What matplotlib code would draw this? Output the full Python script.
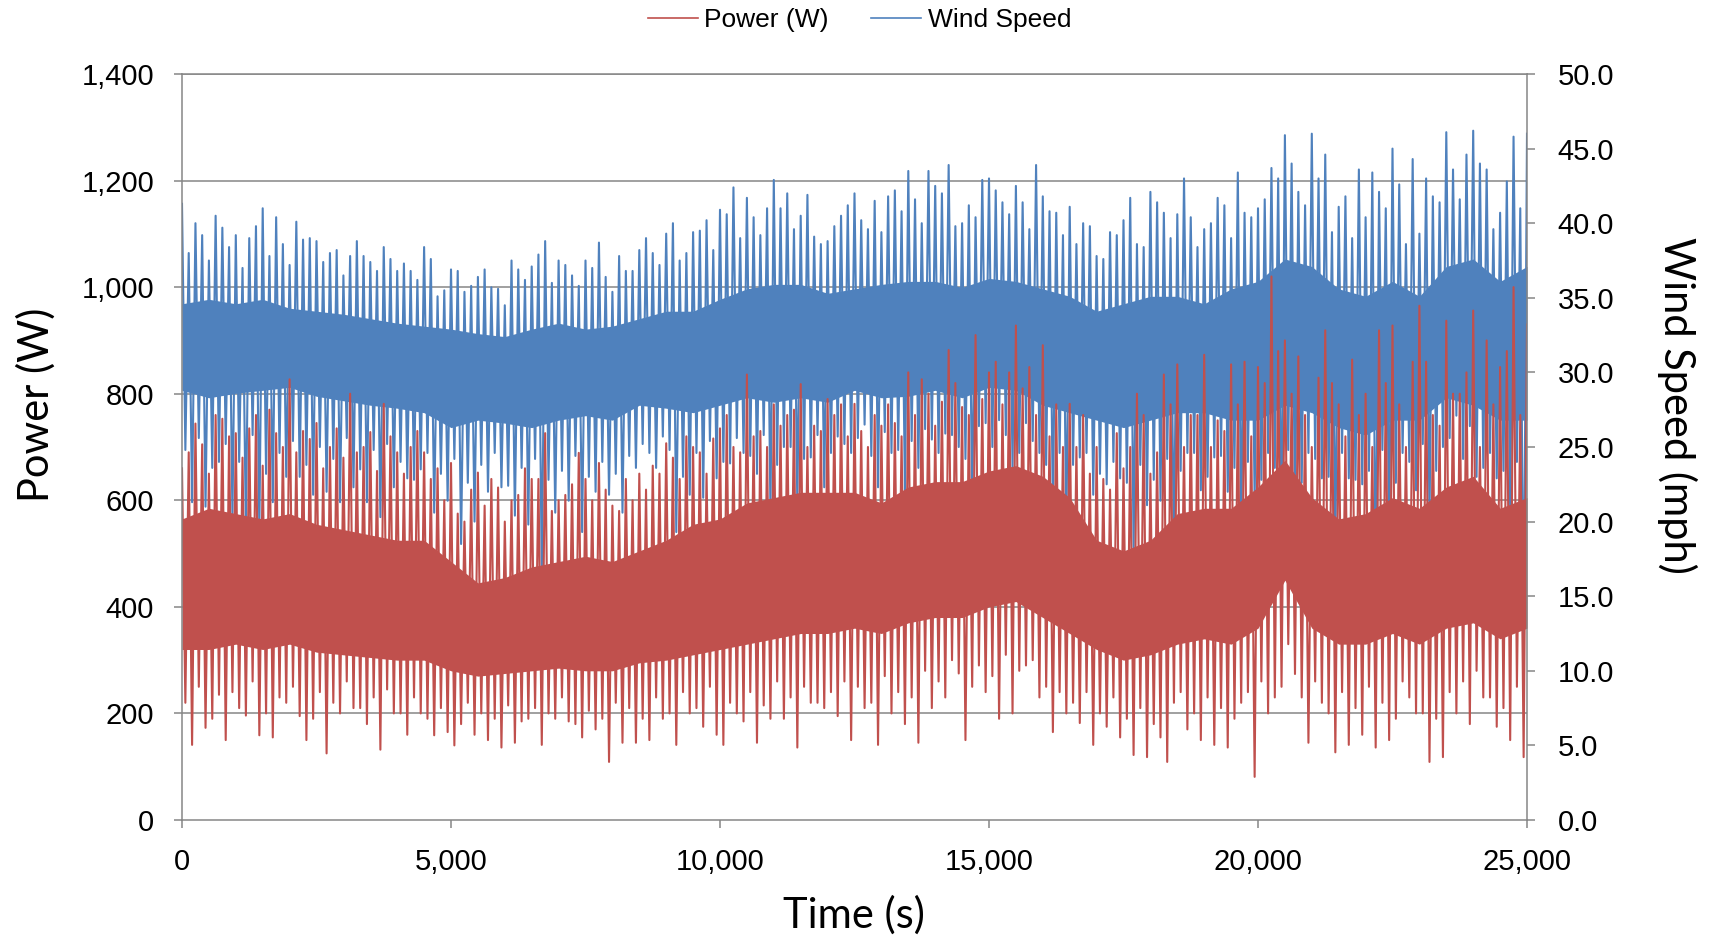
import numpy as np
import matplotlib.pyplot as plt
from matplotlib.ticker import FuncFormatter
from matplotlib.lines import Line2D

# readings taken off the chart: spike tops every 125 s (two interleaved sets),
# spike bottoms in between, and the fully solid core band every 500 s
t_peak = np.arange(0, 25001, 250)
t_peak2 = np.arange(125, 25000, 250)
t_trough = np.arange(187.5, 25000, 250)
t_trough2 = np.arange(62.5, 25000, 250)
t_core = np.arange(0, 25001, 500)

power_peak = [660, 744, 650, 753, 726, 735, 665, 726, 827, 730, 745, 700, 680, 690, 728, 781, 690,
              700, 690, 660, 670, 560, 652, 640, 560, 610, 640, 726, 600, 630, 640, 670, 590, 640,
              650, 665, 707, 640, 700, 650, 735, 700, 836, 730, 780, 760, 818, 740, 790, 780,
              781, 700, 740, 745, 840, 827, 740, 882, 775, 910, 840, 780, 928, 850, 891, 780, 781,
              760, 700, 620, 660, 800, 650, 836, 855, 760, 873, 750, 855, 860, 850, 1020, 900,
              870, 700, 919, 780, 864, 800, 919, 928, 700, 965, 760, 937, 800, 956, 900, 850, 1000, 930]
power_peak2 = [690, 705, 760, 720, 680, 760, 770, 700, 690, 715, 660, 735, 800, 700, 655, 720,
               650, 730, 640, 600, 575, 620, 590, 624, 600, 660, 640, 580, 610, 689, 600, 620, 580,
               600, 620, 650, 680, 720, 690, 716, 760, 690, 720, 700, 740, 770, 700, 730, 760, 720,
               730, 760, 780, 720, 760, 800, 785, 820, 760, 790, 860, 840, 810, 760, 720, 700,
               700, 650, 640, 726, 700, 760, 690, 780, 700, 760, 700, 730, 780, 720, 820, 880,
               800, 760, 830, 820, 720, 760, 700, 820, 780, 860, 860, 740, 800, 840, 700, 780, 880, 760]
power_trough = [141, 173, 235, 240, 196, 159, 155, 220, 195, 190, 125, 200, 210, 180, 132, 200, 160,
                200, 159, 165, 180, 160, 150, 136, 145, 190, 141, 190, 185, 155, 170, 109, 145,
                145, 150, 190, 141, 200, 175, 160, 220, 185, 145, 190, 190, 136, 220, 210, 195, 150,
                210, 141, 200, 180, 145, 210, 230, 275, 250, 240, 190, 200, 290, 230, 165, 200,
                182, 141, 175, 155, 122, 118, 155, 220, 170, 150, 141, 136, 220, 81, 200, 250,
                274, 145, 220, 127, 141, 160, 136, 150, 260, 200, 109, 118, 200, 180, 230, 175, 150, 118]
power_trough2 = [220, 250, 190, 150, 210, 260, 200, 230, 250, 150, 240, 220, 260, 210, 230, 245,
                 200, 230, 190, 210, 140, 220, 200, 190, 215, 185, 210, 200, 230, 180, 205, 190, 220,
                 210, 190, 230, 200, 240, 210, 250, 141, 200, 240, 215, 260, 230, 250, 220, 240, 260,
                 250, 220, 270, 240, 230, 280, 260, 300, 150, 290, 270, 310, 280, 300, 250, 240,
                 220, 240, 200, 230, 190, 210, 180, 109, 240, 200, 230, 210, 190, 240, 260, 230,
                 330, 230, 260, 200, 240, 210, 250, 220, 190, 230, 200, 190, 240, 260, 280, 230, 210, 250]
power_core_hi = [565, 585, 575, 565, 575, 555, 545, 535, 525, 525, 485, 445, 455, 475, 485, 495, 485,
                 505, 525, 555, 565, 595, 605, 615, 615, 615, 595, 625, 635, 635, 655, 665, 645, 605,
                 525, 505, 525, 575, 585, 585, 625, 675, 605, 565, 575, 605, 585, 625, 645, 585, 605]
power_core_lo = [320, 320, 330, 320, 330, 315, 310, 305, 300, 300, 280, 270, 275, 280, 285, 280, 280,
                 295, 300, 310, 320, 330, 340, 350, 350, 360, 350, 370, 380, 380, 400, 410, 380, 350,
                 320, 300, 310, 330, 340, 330, 360, 450, 360, 330, 330, 350, 330, 360, 370, 340, 360]

wind_peak = [41.3, 40.0, 37.5, 39.7, 39.2, 39.0, 41.0, 40.4, 37.2, 38.9, 38.8, 38.0, 36.5, 38.8, 37.4, 38.4, 36.8,
             36.8, 38.4, 35.1, 36.9, 35.4, 36.4, 35.7, 34.5, 36.9, 37.1, 38.8, 37.5, 36.5, 37.5, 38.7, 35.4, 36.8,
             38.2, 38.0, 39.3, 37.5, 39.4, 40.2, 40.9, 42.4, 41.7, 39.2, 42.9, 42.0, 40.5, 39.1, 38.8, 40.5,
             42.0, 39.6, 39.4, 42.2, 43.5, 40.0, 42.5, 43.9, 40.0, 40.4, 43.0, 41.4, 42.5, 39.6, 41.8, 40.7, 41.1,
             40.0, 37.8, 39.4, 40.2, 38.6, 42.1, 40.7, 40.6, 40.4, 39.6, 41.7, 39.0, 40.7, 41.0, 43.7, 45.9,
             42.1, 46.0, 44.6, 41.1, 39.0, 40.4, 42.1, 45.0, 38.6, 39.3, 41.8, 46.1, 41.6, 46.2, 43.6, 40.7, 45.8, 46.0]
wind_peak2 = [38.0, 39.2, 40.5, 38.4, 37.0, 39.8, 37.8, 38.6, 40.1, 39.0, 37.4, 38.2, 37.8, 37.8, 36.8, 37.6,
              37.3, 36.2, 37.6, 35.5, 36.8, 35.8, 36.9, 35.6, 37.5, 36.2, 37.9, 36.0, 37.2, 35.8, 37.0, 36.4, 37.8,
              36.8, 39.0, 37.2, 40.0, 38.0, 39.5, 38.2, 40.6, 39.0, 40.4, 41.0, 41.0, 39.6, 41.9, 38.6, 39.8, 41.2,
              40.2, 41.5, 41.8, 40.8, 41.6, 43.5, 42.0, 39.8, 41.2, 42.9, 42.2, 40.6, 41.4, 43.9, 40.8, 39.2,
              38.6, 39.8, 37.6, 39.2, 41.7, 38.4, 41.4, 39.0, 43.0, 38.4, 40.0, 41.2, 43.4, 40.4, 41.6, 43.0,
              44.0, 41.2, 43.0, 39.4, 41.8, 43.6, 43.4, 41.0, 42.6, 44.3, 43.0, 41.4, 43.6, 44.6, 44.0, 39.6, 42.8, 41.0]
wind_trough = [21.3, 21.0, 24.0, 20.3, 19.5, 19.3, 21.3, 23.0, 23.0, 21.8, 22.0, 21.3, 22.3, 21.3, 20.3, 22.3, 22.9,
               23.5, 20.6, 21.4, 18.5, 20.0, 22.0, 22.3, 20.4, 19.8, 16.4, 20.6, 21.4, 19.3, 22.0, 21.8, 20.6,
               23.6, 24.6, 25.7, 19.3, 21.8, 21.6, 22.9, 23.9, 24.6, 23.2, 20.6, 25.0, 21.0, 24.3, 22.3, 25.7, 24.6,
               26.5, 22.3, 24.6, 22.0, 23.6, 25.5, 25.9, 25.0, 21.0, 26.6, 26.8, 23.6, 26.6, 24.6, 20.6, 19.3,
               24.3, 21.8, 22.5, 22.9, 18.0, 21.1, 21.4, 17.7, 24.6, 22.1, 24.3, 22.0, 18.9, 21.4, 24.6, 18.7,
               20.6, 24.6, 22.9, 18.0, 22.9, 22.5, 15.4, 19.0, 24.6, 22.1, 20.0, 25.0, 27.1, 26.4, 23.6, 22.9, 20.6, 11.0]
wind_trough2 = [24.8, 25.6, 23.6, 25.2, 24.0, 25.8, 23.2, 24.6, 25.4, 23.8, 25.0, 24.2, 25.6, 23.5, 24.8, 25.2,
                24.0, 22.8, 24.6, 23.2, 24.2, 22.6, 23.8, 24.6, 22.4, 23.6, 24.2, 22.8, 23.4, 24.4, 23.0, 24.0, 23.2,
                24.4, 25.2, 23.6, 24.8, 23.0, 24.6, 25.4, 24.0, 25.6, 24.4, 25.8, 23.8, 25.0, 24.2, 25.8, 24.6, 25.2,
                25.6, 24.4, 26.0, 24.8, 25.4, 26.2, 24.6, 25.8, 24.2, 26.4, 25.0, 25.8, 24.6, 25.4, 23.8, 24.6,
                23.8, 24.6, 23.2, 24.0, 22.6, 23.8, 22.8, 24.2, 23.4, 24.6, 23.0, 24.4, 23.6, 24.0, 22.8, 23.6,
                24.8, 22.6, 24.2, 23.0, 24.6, 22.8, 23.4, 24.8, 22.6, 24.0, 25.2, 23.4, 25.6, 24.2, 23.0, 24.6, 23.4, 24.0]
wind_core_hi = [34.6, 34.9, 34.6, 34.9, 34.3, 34.1, 33.9, 33.6, 33.3, 33.1, 32.9, 32.6, 32.4, 32.9, 33.3, 32.9, 33.1,
                33.6, 34.1, 34.1, 34.9, 35.6, 35.9, 35.9, 35.3, 35.6, 35.9, 36.1, 36.1, 35.7, 36.3, 36.1, 35.6, 35.1,
                34.1, 34.6, 35.1, 35.1, 34.6, 35.6, 36.1, 37.6, 37.1, 35.6, 35.1, 36.1, 35.1, 37.1, 37.6, 36.1, 37.1]
wind_core_lo = [28.8, 28.3, 28.6, 28.8, 29.0, 28.4, 28.1, 27.8, 27.6, 27.3, 26.3, 26.8, 26.6, 26.3, 26.8, 27.1, 26.8,
                27.8, 27.6, 27.3, 27.8, 28.3, 28.0, 28.3, 28.0, 28.8, 28.3, 28.4, 28.8, 28.3, 29.0, 28.8, 27.8, 27.3,
                26.8, 26.3, 26.8, 27.3, 27.3, 26.8, 26.8, 27.8, 27.3, 26.3, 25.8, 26.8, 26.8, 28.3, 27.8, 26.8, 26.8]

power_ticks = [0, 200, 400, 600, 800, 1000, 1200, 1400]
wind_ticks = [0, 5, 10, 15, 20, 25, 30, 35, 40, 45, 50]
time_ticks = [0, 5000, 10000, 15000, 20000, 25000]

red = "#C0504D"
blue = "#4F81BD"
grey = "#868686"
tick_font = "Liberation Sans"
label_font = "Lato"


def trace(parts):
    # join (times, values) readings into one line ordered by time
    t = np.concatenate([p[0] for p in parts])
    v = np.concatenate([np.asarray(p[1], dtype=float) for p in parts])
    order = np.argsort(t, kind="stable")
    return t[order], v[order]


fig = plt.figure(figsize=(17.19, 9.4), dpi=100)
ax = fig.add_axes([182 / 1719, 1 - 820 / 940, 1345 / 1719, 746 / 940])
ax2 = ax.twinx()
ax.set_zorder(ax2.get_zorder() + 1)
ax.patch.set_visible(False)

ax.set_xlim(0, 25000)
ax.set_ylim(0, 1400)
ax2.set_ylim(0, 50)

# gridlines sit behind both series, so draw them on the back axes
for p in power_ticks[1:]:
    ax2.axhline(p * 50 / 1400, color=grey, lw=1.1, zorder=0.5)

tw, vw = trace([(t_peak, wind_peak), (t_trough2, wind_trough2), (t_peak2, wind_peak2), (t_trough, wind_trough)])
ax2.fill_between(t_core, wind_core_lo, wind_core_hi, color=blue, lw=0, zorder=1)
ax2.plot(tw, vw, color=blue, lw=1.5, zorder=2)

tp, vp = trace([(t_peak, power_peak), (t_trough2, power_trough2), (t_peak2, power_peak2), (t_trough, power_trough)])
ax.fill_between(t_core, power_core_lo, power_core_hi, color=red, lw=0, zorder=1)
ax.plot(tp, vp, color=red, lw=1.5, zorder=2)

ax.set_xticks(time_ticks)
ax.set_yticks(power_ticks)
ax2.set_yticks(wind_ticks)
ax.xaxis.set_major_formatter(FuncFormatter(lambda v, pos: f"{v:,.0f}"))
ax.yaxis.set_major_formatter(FuncFormatter(lambda v, pos: f"{v:,.0f}"))
ax2.yaxis.set_major_formatter(FuncFormatter(lambda v, pos: f"{v:.1f}"))

for s in ax.spines.values():
    s.set_color(grey)
    s.set_linewidth(1.1)
for s in ax2.spines.values():
    s.set_visible(False)

ax.tick_params(axis="both", direction="out", length=6, width=1.1, color=grey, pad=14, labelsize=21)
ax2.tick_params(axis="y", direction="out", length=6, width=1.1, color=grey, pad=16, labelsize=21)
for lab in ax.get_xticklabels() + ax.get_yticklabels() + ax2.get_yticklabels():
    lab.set_fontfamily(tick_font)

fig.text(854 / 1719, 1 - 915 / 940, "Time (s)", ha="center", va="center", fontsize=30, family=label_font)
fig.text(36 / 1719, 1 - 405 / 940, "Power (W)", ha="center", va="center", rotation=90, fontsize=30,
         family=label_font)
fig.text(1677 / 1719, 1 - 405 / 940, "Wind Speed (mph)", ha="center", va="center", rotation=270,
         fontsize=30, family=label_font)

handles = [Line2D([], [], color=red, lw=1.2), Line2D([], [], color=blue, lw=1.2)]
fig.legend(handles, ["Power (W)", "Wind Speed"], loc="center", bbox_to_anchor=(0.5, 1 - 20 / 940), ncol=2,
           frameon=False, handlelength=1.9, handletextpad=0.25, columnspacing=1.6,
           prop={"family": tick_font, "size": 19})

fig.savefig("out.png", dpi=100)
